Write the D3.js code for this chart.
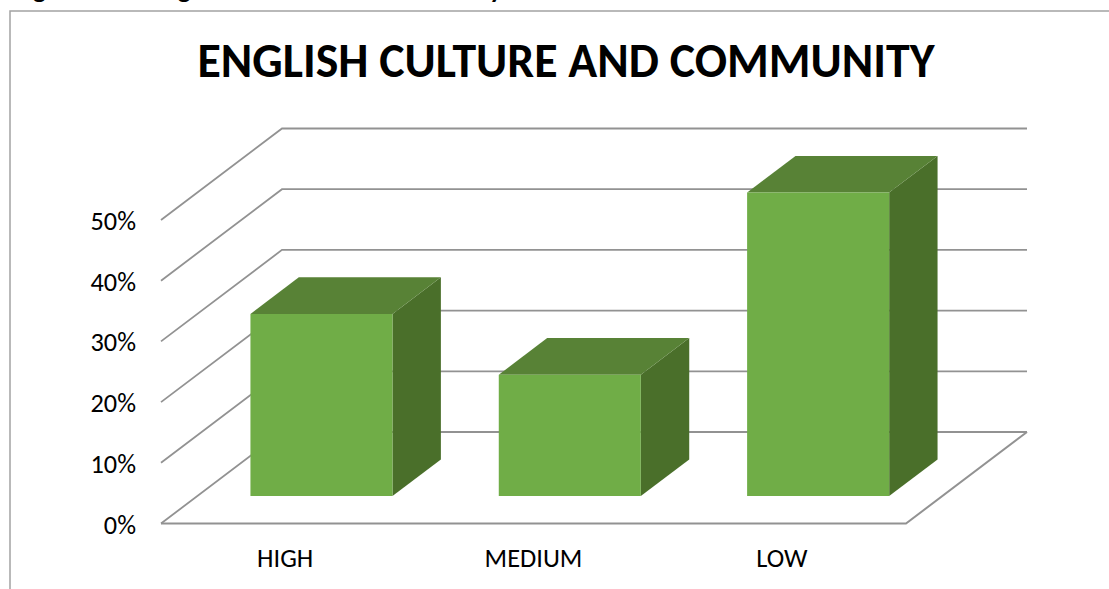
<!DOCTYPE html>
<html>
<head>
<meta charset="utf-8">
<script src="https://cdn.jsdelivr.net/npm/d3@7/dist/d3.min.js"></script>
<style>
  html, body { margin: 0; padding: 0; background: #fff; overflow: hidden; }
  svg { display: block; }
  text { font-family: Carlito, Lato, "Open Sans", sans-serif; fill: #000; }
</style>
</head>
<body>
<svg id="chart" width="1109" height="589"></svg>
<script>
// Chart content
const chartTitle = "ENGLISH CULTURE AND COMMUNITY";
const captionParts = ["Figure", "English Culture and Community"];
const categories = ["HIGH", "MEDIUM", "LOW"];
const shares = [30, 20, 50];
const tickValues = [0, 10, 20, 30, 40, 50];

// Colours of the three visible bar faces
const frontColor = "#70ad47";
const topColor = "#588236";
const sideColor = "#4a6f2a";
const gridColor = "#929292";

const svg = d3.select("#chart");

// Oblique projection: a floor plane sheared up and to the right
const x = d3.scaleBand().domain(categories).range([161, 906]);
const y = d3.scaleLinear().domain([0, 50]).range([523.5, 220]);
const depth = { dx: 121, dy: -91.5 };
const project = (px, value, d) => [px + depth.dx * d, y(value) + depth.dy * d];

const barFront = 0.3;
const barBack = 0.7;
const barWidth = x.bandwidth() * 0.572;

const polygon = pts => "M" + pts.map(p => p.join(",")).join("L") + "Z";
const polyline = pts => "M" + pts.map(p => p.join(",")).join("L");

// Caption running along the top edge of the page, mostly cut off by it
svg.append("g").selectAll("text")
  .data(captionParts)
  .join("text")
  .attr("x", (d, i) => [14, 150][i])
  .attr("y", -2)
  .attr("font-size", 27)
  .attr("font-weight", 700)
  .text(d => d);

// Outer frame of the chart area, open at the bottom and right edge of the page
svg.append("path")
  .attr("d", polyline([[10, 589], [10, 11], [1109, 11]]))
  .attr("fill", "none")
  .attr("stroke", "#a3a3a3")
  .attr("stroke-width", 1.5);

// Title
svg.append("text")
  .attr("x", 566)
  .attr("y", 77)
  .attr("text-anchor", "middle")
  .attr("font-size", 47.8)
  .attr("font-weight", 700)
  .text(chartTitle);

// Walls: side wall edges and back wall lines for every tick
const grid = svg.append("g").attr("fill", "none").attr("stroke", gridColor).attr("stroke-width", 1.8);
grid.selectAll("path.wall")
  .data(tickValues)
  .join("path")
  .attr("class", "wall")
  .attr("d", v => polyline([
    project(x.range()[0], v, 0),
    project(x.range()[0], v, 1),
    project(x.range()[1], v, 1)
  ]));

// Remaining floor edges
grid.append("path")
  .attr("stroke-width", 2)
  .attr("d", polyline([
    project(x.range()[0], 0, 0),
    project(x.range()[1], 0, 0),
    project(x.range()[1], 0, 1)
  ]));

// Bars
const bars = svg.append("g").selectAll("g")
  .data(categories.map((c, i) => ({ c, v: shares[i] })))
  .join("g");

const left = d => x(d.c) + (x.bandwidth() - barWidth) / 2;
const right = d => left(d) + barWidth;

bars.append("path").attr("fill", sideColor).attr("d", d => polygon([
  project(right(d), 0, barFront),
  project(right(d), 0, barBack),
  project(right(d), d.v, barBack),
  project(right(d), d.v, barFront)
]));
bars.append("path").attr("fill", topColor).attr("d", d => polygon([
  project(left(d), d.v, barFront),
  project(right(d), d.v, barFront),
  project(right(d), d.v, barBack),
  project(left(d), d.v, barBack)
]));
bars.append("path").attr("fill", frontColor).attr("d", d => polygon([
  project(left(d), 0, barFront),
  project(right(d), 0, barFront),
  project(right(d), d.v, barFront),
  project(left(d), d.v, barFront)
]));

// Value axis labels
svg.append("g").selectAll("text")
  .data(tickValues)
  .join("text")
  .attr("x", 136)
  .attr("y", v => y(v) + 10)
  .attr("text-anchor", "end")
  .attr("font-size", 26.3)
  .text(v => v + "%");

// Category labels
svg.append("g").selectAll("text")
  .data(categories)
  .join("text")
  .attr("x", c => x(c) + x.bandwidth() / 2)
  .attr("y", 567)
  .attr("text-anchor", "middle")
  .attr("font-size", 26.4)
  .text(c => c);
</script>
</body>
</html>
